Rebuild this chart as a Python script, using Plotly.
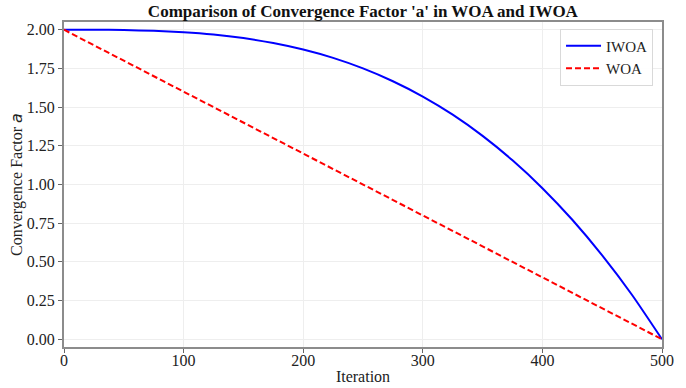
import plotly.graph_objects as go

# Data
iwoa_iter = [0, 25, 50, 75, 100, 125, 150, 175, 200, 225, 250, 275, 300,
             325, 350, 375, 400, 425, 450, 475, 500]
iwoa_a = [2.00, 2.00, 1.998, 1.993, 1.984, 1.969, 1.946, 1.914, 1.872, 1.818,
          1.750, 1.667, 1.568, 1.451, 1.314, 1.156, 0.976, 0.772, 0.542, 0.286, 0.00]
woa_iter = [0, 100, 200, 300, 400, 500]
woa_a = [2.00, 1.60, 1.20, 0.80, 0.40, 0.00]

x_ticks = [0, 100, 200, 300, 400, 500]
y_ticks = [0.00, 0.25, 0.50, 0.75, 1.00, 1.25, 1.50, 1.75, 2.00]
y_tick_labels = ["0.00", "0.25", "0.50", "0.75", "1.00", "1.25", "1.50", "1.75", "2.00"]

SERIF = "Liberation Serif, Times New Roman, serif"

fig = go.Figure()
fig.add_trace(go.Scatter(x=iwoa_iter, y=iwoa_a, mode="lines", name="IWOA",
                         line=dict(color="#0000ff", width=2, shape="spline", smoothing=0.6)))
fig.add_trace(go.Scatter(x=woa_iter, y=woa_a, mode="lines", name="WOA",
                         line=dict(color="#ff0000", width=2, dash="6px,3px")))

axis_common = dict(
    showline=True, linecolor="#8c8c8c", linewidth=2, mirror=True,
    showgrid=True, gridcolor="#eeeeee", gridwidth=1,
    ticks="outside", ticklen=4, tickcolor="#666666", tickwidth=1,
    tickfont=dict(family=SERIF, size=16, color="#222222"),
    zeroline=False, automargin=False,
)

fig.update_layout(
    width=686, height=388,
    margin=dict(l=64, r=24, t=22, b=41),
    paper_bgcolor="white", plot_bgcolor="white",
    title=dict(text="<b>Comparison of Convergence Factor 'a' in WOA and IWOA</b>",
               font=dict(family=SERIF, size=17, color="#111111"),
               x=0.529, xanchor="center", y=0.972, yanchor="middle"),
    xaxis=dict(range=[0, 500], tickvals=x_ticks, ticklabelstandoff=-6,
               title=dict(text="Iteration", font=dict(family=SERIF, size=16, color="#222222"),
                          standoff=3),
               **axis_common),
    yaxis=dict(range=[-0.05, 2.05], tickvals=y_ticks, ticktext=y_tick_labels,
               title=dict(text="Convergence Factor <span style='font-family:DejaVu Sans'><i>a</i></span>",
                          font=dict(family=SERIF, size=16, color="#222222"),
                          standoff=0),
               **axis_common),
    legend=dict(x=0.985, y=0.98, xanchor="right", yanchor="top",
                bgcolor="rgba(255,255,255,0.9)", bordercolor="#d9d9d9", borderwidth=1,
                font=dict(family=SERIF, size=15, color="#222222"),
                itemwidth=35),
    showlegend=True,
)

fig.write_html("out.html")
